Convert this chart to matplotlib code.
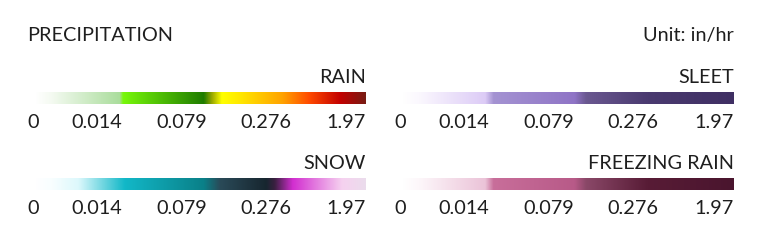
import numpy as np
import matplotlib
matplotlib.use("Agg")
import matplotlib.pyplot as plt
from matplotlib.colors import LinearSegmentedColormap

plt.rcParams['font.family'] = ['Lato', 'DejaVu Sans']

# ---- data ----
title = "PRECIPITATION"
unit_label = "Unit: in/hr"
categories = ["RAIN", "SLEET", "SNOW", "FREEZING RAIN"]
tick_labels = ["0", "0.014", "0.079", "0.276", "1.97"]

rain_stops = [0.0, 0.05, 0.255, 0.265, 0.51, 0.535, 0.565, 0.62, 0.75, 0.83, 0.925, 1.0]
rain_colors = ["#ffffff", "#f4faf1", "#aadd9c", "#78f80a", "#1f7c00", "#9aa800", "#ffff00",
               "#ffe800", "#ffa200", "#ff4a00", "#c20000", "#781c14"]

sleet_stops = [0.0, 0.05, 0.25, 0.275, 0.52, 0.555, 0.74, 1.0]
sleet_colors = ["#ffffff", "#fbf8fe", "#dccbf6", "#a493d2", "#8f74c6", "#6a5890", "#4a3a70", "#3f2f63"]

snow_stops = [0.0, 0.05, 0.13, 0.27, 0.51, 0.56, 0.70, 0.725, 0.78, 0.93, 1.0]
snow_colors = ["#ffffff", "#f8feff", "#dcf8fc", "#12b8c8", "#0a8088", "#2a4a58", "#17262f",
               "#3a2040", "#d22ed0", "#f6d2f0", "#ebdcec"]

frz_stops = [0.0, 0.05, 0.25, 0.275, 0.52, 0.555, 0.74, 1.0]
frz_colors = ["#ffffff", "#fdf7fa", "#ebc3d8", "#c86e9a", "#b85a88", "#8a4868", "#581c36", "#4a152e"]

gradients = [(rain_stops, rain_colors), (sleet_stops, sleet_colors),
             (snow_stops, snow_colors), (frz_stops, frz_colors)]

# ---- layout (pixels) ----
W, H = 760, 252
fig = plt.figure(figsize=(W / 100, H / 100), dpi=100)
fig.patch.set_facecolor("white")

bars = [(35, 92, 366, 104), (402, 92, 734, 104), (35, 178, 366, 190), (402, 178, 734, 190)]
tick_offsets = [61.5, 146.5, 230.5]  # label centers relative to bar start
text_color = "#1e1e1e"
fs = 14.3

def fx(x):
    return x / W

def fy(y):
    return 1 - y / H

fig.text(fx(27), fy(35.5), title, ha="left", va="center", fontsize=fs, color=text_color)
fig.text(fx(734), fy(35.5), unit_label, ha="right", va="center", fontsize=fs, color=text_color)

grad = np.linspace(0, 1, 512).reshape(1, -1)
for (x0, y0, x1, y1), name, (stops, cols) in zip(bars, categories, gradients):
    ax = fig.add_axes([fx(x0), fy(y1), (x1 - x0) / W, (y1 - y0) / H])
    cmap = LinearSegmentedColormap.from_list(name, list(zip(stops, cols)))
    ax.imshow(grad, aspect="auto", cmap=cmap, extent=[0, 1, 0, 1], interpolation="bilinear")
    ax.set_axis_off()
    fig.text(fx(x1), fy(y0 - 14.5), name, ha="right", va="center", fontsize=fs, color=text_color)
    ly = y1 + 18
    fig.text(fx(x0 - 8), fy(ly), tick_labels[0], ha="left", va="center", fontsize=fs, color=text_color)
    for lab, off in zip(tick_labels[1:4], tick_offsets):
        fig.text(fx(x0 + off), fy(ly), lab, ha="center", va="center", fontsize=fs, color=text_color)
    fig.text(fx(x1), fy(ly), tick_labels[4], ha="right", va="center", fontsize=fs, color=text_color)

fig.savefig("out.png", dpi=100, facecolor="white")
